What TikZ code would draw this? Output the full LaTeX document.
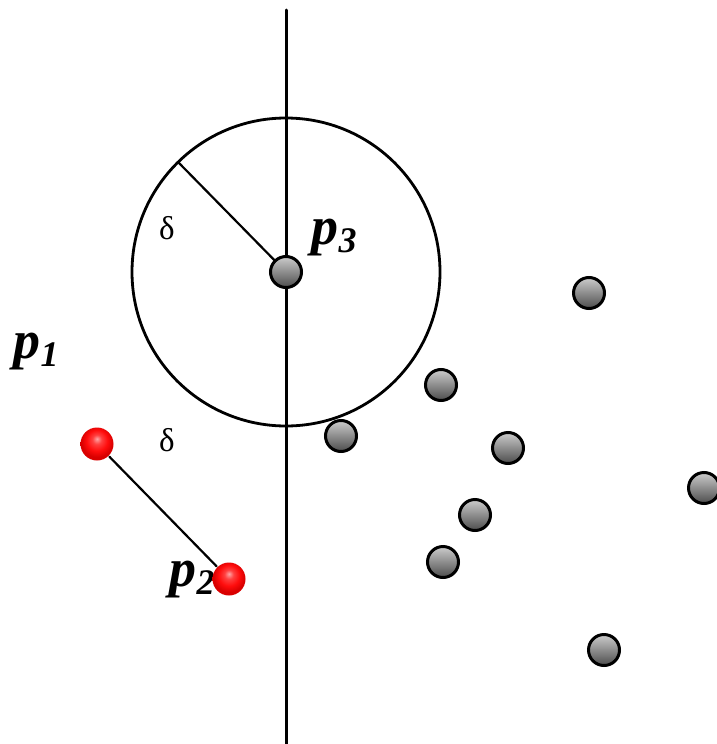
\documentclass[tikz,border=0pt]{standalone}
\usepackage{fontspec}
\setmainfont{Liberation Serif}
\pgfdeclareradialshading{redball}{\pgfpoint{0bp}{8bp}}{%
  color(0bp)=(red!35!white); color(7bp)=(red!75!white); color(16bp)=(red!95!white);
  color(24bp)=(red!85!black); color(50bp)=(red!85!black)}
\tikzset{
  pt/.style={circle, draw, line width=3pt, minimum size=31pt, inner sep=0pt,
    top color=gray!40, bottom color=gray!60!black},
  redpt/.style={circle, minimum size=33pt, inner sep=0pt, shading=redball},
  plab/.style={inner sep=0pt, font=\fontsize{54}{54}\selectfont\bfseries\itshape},
  dlab/.style={inner sep=0pt, font=\fontsize{33}{33}\selectfont}
}
\newcommand{\pname}[1]{p\raisebox{-0.3ex}{\fontsize{36}{36}\selectfont #1}}
\begin{document}
\begin{tikzpicture}[x=1pt, y=-1pt, line width=2.2pt, line cap=round]
	\useasboundingbox (0,0) rectangle (717,744);
	\coordinate (top) at (286,10);
	\coordinate (bot) at (286,744);
	\coordinate (c) at (286,272);
	\coordinate (rim) at (179,163);
	\draw[line width=3pt] (top)--(bot);
	\draw[line width=2.8pt] (c) circle (154pt);
	\draw (c)--(rim);
	% labels
	\node[dlab] (d1) at (167,228) {δ};
	\node[dlab] (d2) at (167,440) {δ};
	\node[plab] (l1) at (36,352) {\pname{1}};
	\node[plab] (l2) at (192,580) {\pname{2}};
	\node[plab] (l3) at (334,238) {\pname{3}};
	% points
	\node[pt] (p3) at (c) {};
	\node[pt] (q1) at (589,293) {};
	\node[pt] (q2) at (441,385) {};
	\node[pt] (q3) at (341,436) {};
	\node[pt] (q4) at (508,448) {};
	\node[pt] (q5) at (475,515) {};
	\node[pt] (q6) at (443,562) {};
	\node[pt] (q7) at (704,488) {};
	\node[pt] (q8) at (604,650) {};
	\node[redpt] (p1) at (97,444) {};
	\node[redpt] (p2) at (229,579) {};
	\draw (p1)--(p2);
\end{tikzpicture}
\end{document}
